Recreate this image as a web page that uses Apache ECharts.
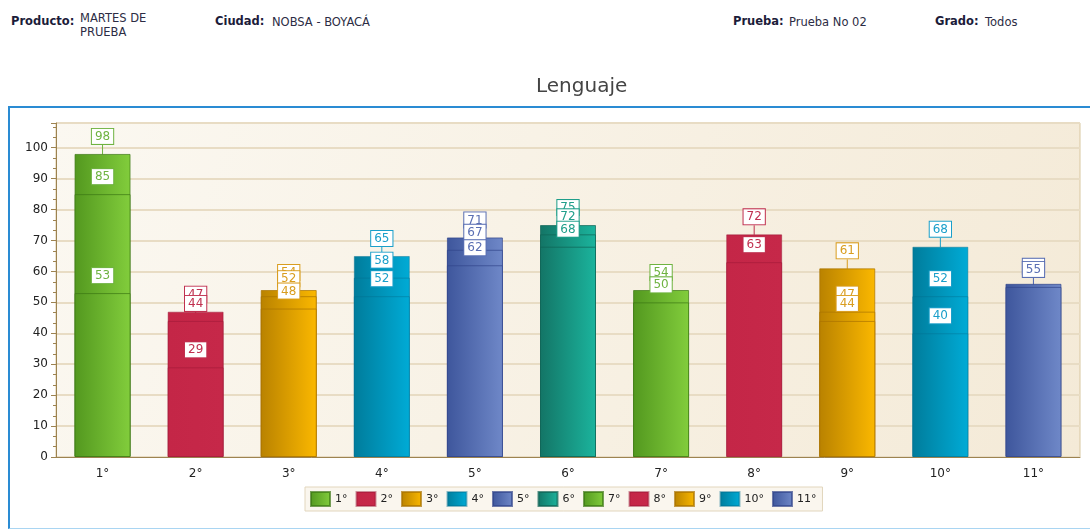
<!DOCTYPE html>
<html>
<head>
<meta charset="utf-8">
<script src="https://cdn.jsdelivr.net/npm/echarts@6/dist/echarts.min.js"></script>
<style>
body { margin: 0; background: #fff; font-family: 'DejaVu Sans', sans-serif; }
#page { position: relative; width: 1090px; height: 529px; overflow: hidden; }
.hl { position: absolute; font-size: 11.5px; font-weight: bold; color: #1c1c3a; }
.hv { position: absolute; font-size: 11.5px; color: #2c2c44; line-height: 14px; }
#box { position: absolute; left: 8px; top: 106px; width: 1100px; height: 420px;
       border-left: 2px solid #2a8bd3; border-top: 2px solid #2a8bd3; border-bottom: 1px solid #a9d5f2; }
#chart { position: absolute; left: 0; top: 0; width: 1090px; height: 529px; }
</style>
</head>
<body>
<div id="page">
  <div class="hl" style="left:11px;top:14px">Producto:</div>
  <div class="hv" style="left:80px;top:11px">MARTES DE<br>PRUEBA</div>
  <div class="hl" style="left:215px;top:14px">Ciudad:</div>
  <div class="hv" style="left:272px;top:15px">NOBSA - BOYACÁ</div>
  <div class="hl" style="left:733px;top:14px">Prueba:</div>
  <div class="hv" style="left:789px;top:15px">Prueba No 02</div>
  <div class="hl" style="left:935px;top:14px">Grado:</div>
  <div class="hv" style="left:985px;top:15px">Todos</div>
  <div id="box"></div>
  <div id="chart"></div>
</div>
<script>
// grados y puntajes (tres niveles por grado)
var grades = ['1°', '2°', '3°', '4°', '5°', '6°', '7°', '8°', '9°', '10°', '11°'];
var scoreTop = [98, 47, 54, 65, 71, 75, 54, 72, 61, 68, 56];
var scoreMid = [85, 44, 52, 58, 67, 72, 50, 63, 47, 52, 55];
var scoreLow = [53, 29, 48, 52, 62, 68, null, null, 44, 40, null];
var yTicks = [0, 10, 20, 30, 40, 50, 60, 70, 80, 90, 100];

// colores: izquierda, derecha, borde, texto
var palette = [
	['#53981f', '#82cd3c', 'rgba(60,120,20,0.7)', '#6fb341'],
	['#c42647', '#c62849', 'rgba(150,20,50,0.45)', '#c0304f'],
	['#b98200', '#fbb800', 'rgba(170,115,0,0.7)', '#d99d1f'],
	['#007c9b', '#00abd6', 'rgba(0,110,145,0.45)', '#1a9fca'],
	['#3e569c', '#6f88c8', 'rgba(50,70,140,0.7)', '#5a6fb3'],
	['#137566', '#1bb49d', 'rgba(15,100,85,0.7)', '#1f9e8a']
];

var chart = echarts.init(document.getElementById('chart'));

var minorCats = [];
for (var k = 0; k < grades.length * 5; k++) minorCats.push('');

var series = [];
[scoreTop, scoreMid, scoreLow].forEach(function (tier) {
	grades.forEach(function (g, i) {
		var c = palette[i % palette.length];
		series.push({
			name: g,
			type: 'bar',
			barWidth: 56,
			barGap: '-100%',
			data: grades.map(function (_, j) { return j === i ? tier[i] : null; }),
			itemStyle: {
				color: new echarts.graphic.LinearGradient(0, 0, 1, 0, [
					{ offset: 0, color: c[0] },
					{ offset: 1, color: c[1] }
				]),
				borderColor: c[2],
				borderWidth: 1
			},
			label: {
				show: true,
				position: 'top',
				distance: 10,
				color: c[3],
				fontSize: 12,
				fontFamily: 'DejaVu Sans',
				backgroundColor: '#fff',
				borderColor: c[3],
				borderWidth: 1,
				padding: [2, 3, 1, 3]
			},
			labelLine: { show: true, lineStyle: { color: c[3], width: 1 } },
			labelLayout: { dy: 0 }
		});
	});
});

option = {
	animation: false,
	title: {
		text: 'Lenguaje',
		left: 531,
		top: 72,
		textStyle: { fontSize: 20, fontWeight: 'normal', color: '#444', fontFamily: 'DejaVu Sans' }
	},
	legend: {
		data: grades,
		left: 305,
		top: 487,
		itemWidth: 19,
		itemHeight: 14,
		itemGap: 8,
		icon: 'rect',
		padding: [4, 6, 4, 5],
		backgroundColor: '#faf6ee',
		borderColor: '#e2d6bd',
		borderWidth: 1,
		textStyle: { fontSize: 11, color: '#222', fontFamily: 'DejaVu Sans' }
	},
	grid: {
		left: 56,
		right: 10,
		top: 123,
		bottom: 72,
		show: true,
		borderColor: '#d8c7a0',
		borderWidth: 1,
		backgroundColor: new echarts.graphic.LinearGradient(0, 0, 1, 1, [
			{ offset: 0, color: '#fbf8f1' },
			{ offset: 1, color: '#f4ead7' }
		])
	},
	xAxis: [{
		type: 'category',
		data: grades,
		axisLine: { lineStyle: { color: '#9d8350' } },
		axisTick: { alignWithLabel: true, length: 5, lineStyle: { color: '#9d8350' } },
		axisLabel: { color: '#222', fontSize: 12, margin: 11, fontFamily: 'DejaVu Sans' }
	}, {
		type: 'category',
		data: minorCats,
		position: 'bottom',
		axisLine: { show: false },
		axisTick: { alignWithLabel: true, interval: 0, length: 3, lineStyle: { color: '#9d8350' } },
		axisLabel: { show: false }
	}],
	yAxis: {
		type: 'value',
		min: yTicks[0],
		max: 108,
		interval: 10,
		axisLine: { show: true, lineStyle: { color: '#9d8350' } },
		axisTick: { show: true, length: 5, lineStyle: { color: '#9d8350' } },
		minorTick: { show: true, splitNumber: 3, length: 3, lineStyle: { color: '#9d8350' } },
		splitLine: { lineStyle: { color: '#e8dcc4', width: 2 } },
		axisLabel: { color: '#222', fontSize: 12, margin: 8, showMaxLabel: false, fontFamily: 'DejaVu Sans' }
	},
	series: series
};

chart.setOption(option);
</script>
</body>
</html>
